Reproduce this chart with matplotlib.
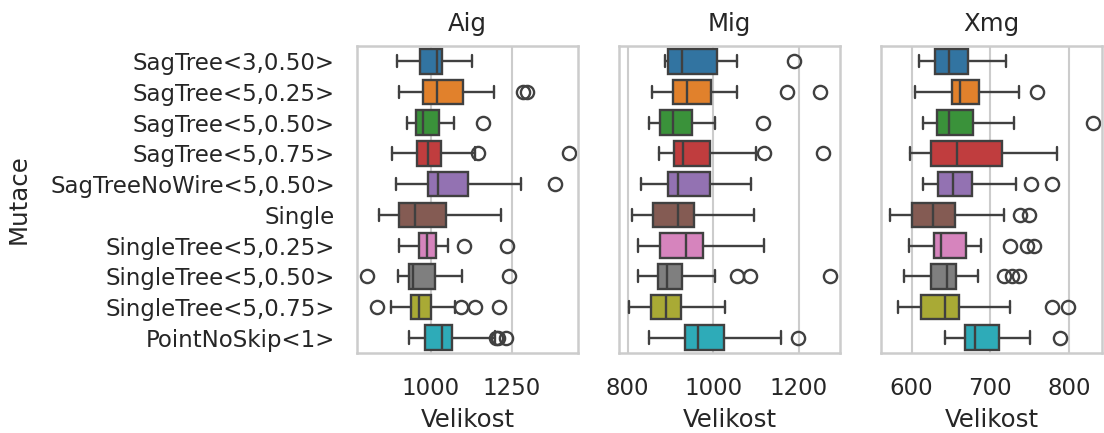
import matplotlib
matplotlib.use("Agg")
import matplotlib.pyplot as plt
import seaborn as sns

# mutation operators, top to bottom
mutace = ["SagTree<3,0.50>", "SagTree<5,0.25>", "SagTree<5,0.50>", "SagTree<5,0.75>",
          "SagTreeNoWire<5,0.50>", "Single", "SingleTree<5,0.25>", "SingleTree<5,0.50>",
          "SingleTree<5,0.75>", "PointNoSkip<1>"]

# box stats: (whislo, q1, med, q3, whishi)
aig_stats = [(894, 966, 1019, 1033, 1126), (902, 976, 1019, 1100, 1195),
             (925, 953, 976, 1025, 1072), (881, 956, 990, 1031, 1136),
             (892, 992, 1023, 1115, 1278), (840, 902, 952, 1048, 1216),
             (901, 963, 987, 1015, 1052), (899, 933, 945, 1012, 1095),
             (877, 940, 964, 1000, 1074), (933, 981, 1035, 1066, 1197)]
aig_fliers = [[], [1285, 1298], [1160], [1146, 1426], [1383], [], [1103, 1234],
              [802, 1241], [833, 1093, 1136, 1210], [1200, 1206, 1231]]

mig_stats = [(887, 895, 928, 1009, 1055), (856, 907, 938, 996, 1055),
             (850, 876, 907, 951, 1004), (873, 908, 930, 992, 1101),
             (831, 895, 918, 992, 1088), (811, 860, 918, 956, 1095),
             (825, 876, 936, 977, 1119), (825, 872, 893, 928, 1004),
             (804, 854, 891, 926, 1027), (850, 934, 965, 1025, 1159)]
mig_fliers = [[1189], [1172, 1249], [1117], [1119, 1258], [], [], [],
              [1055, 1087, 1274], [], [1198]]

xmg_stats = [(609, 630, 647, 671, 720), (604, 651, 661, 686, 737),
             (614, 632, 647, 678, 730), (598, 625, 657, 715, 785),
             (614, 634, 652, 677, 733), (573, 600, 627, 655, 717),
             (597, 629, 637, 669, 688), (590, 625, 645, 656, 684),
             (582, 612, 643, 660, 725), (643, 668, 681, 711, 751)]
xmg_fliers = [[], [759], [831], [], [752, 778], [738, 749], [725, 746, 755],
              [717, 728, 736], [779, 799], [789]]

panels = [("Aig", aig_stats, aig_fliers, (772, 1454), [1000, 1250]),
          ("Mig", mig_stats, mig_fliers, (780, 1297), [800, 1000, 1200]),
          ("Xmg", xmg_stats, xmg_fliers, (561, 842), [600, 700, 800])]

sns.set_theme(style="whitegrid")
colors = sns.color_palette("tab10", 10, desat=0.75)
edge = (0.25, 0.25, 0.25)

fig = plt.figure(figsize=(11.04, 4.33), dpi=100)
lefts = [0.3234, 0.5607, 0.798]

for i, (title, stats, fliers, xlim, ticks) in enumerate(panels):
    ax = fig.add_axes([lefts[i], 0.1848, 0.2002, 0.709])
    bxp_stats = []
    for (lo, q1, med, q3, hi), fl in zip(stats, fliers):
        bxp_stats.append(dict(whislo=lo, q1=q1, med=med, q3=q3, whishi=hi, fliers=fl))
    bp = ax.bxp(bxp_stats, positions=range(len(mutace)), widths=0.8,
                orientation="horizontal", patch_artist=True,
                boxprops=dict(edgecolor=edge, linewidth=1.7),
                medianprops=dict(color=edge, linewidth=1.7),
                whiskerprops=dict(color=edge, linewidth=1.7),
                capprops=dict(color=edge, linewidth=1.7),
                flierprops=dict(marker="o", markerfacecolor="none",
                                markeredgecolor=edge, markersize=9.5,
                                markeredgewidth=1.7))
    for patch, c in zip(bp["boxes"], colors):
        patch.set_facecolor(c)
    ax.set_ylim(len(mutace) - 0.5, -0.5)
    ax.set_xlim(*xlim)
    ax.set_xticks(ticks)
    ax.grid(axis="y", visible=False)
    ax.grid(axis="x", color="0.8", linewidth=1.5)
    for s in ax.spines.values():
        s.set_color("0.8")
        s.set_linewidth(1.8)
    ax.tick_params(axis="x", labelsize=16.5, pad=11)
    ax.set_title(title, fontsize=17.6, pad=11)
    ax.set_xlabel("Velikost", fontsize=17.6, labelpad=6)
    ax.set_yticks(range(len(mutace)))
    if i == 0:
        ax.set_yticklabels(mutace, fontsize=16.5)
        ax.tick_params(axis="y", pad=10)
        ax.set_ylabel("Mutace", fontsize=17.6, labelpad=14)
    else:
        ax.set_yticklabels([])

fig.savefig("out.png", dpi=100)
